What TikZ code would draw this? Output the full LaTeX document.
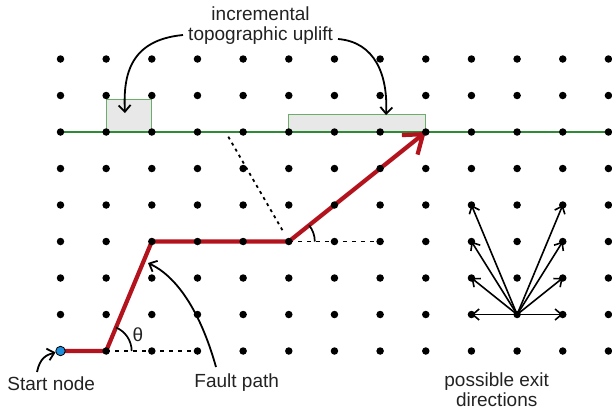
\documentclass[tikz,border=0pt]{standalone}
\usepackage{fontspec}
\setmainfont{Liberation Sans}
\usetikzlibrary{arrows.meta,backgrounds}
\definecolor{faultred}{HTML}{B3131C}
\definecolor{topogreen}{HTML}{2F8A35}
\definecolor{boxgreen}{HTML}{6AAE6A}
\definecolor{boxgray}{HTML}{E8E8E8}
\definecolor{startblue}{HTML}{1E8FDC}
\definecolor{txt}{HTML}{222222}
\begin{document}
\begin{tikzpicture}[x=1pt,y=1pt,
  dot/.style={circle,fill=black,inner sep=0pt,minimum size=7.5pt},
  startnode/.style={circle,fill=startblue,draw=black,line width=0.8pt,inner sep=0pt,minimum size=9.5pt},
  lbl/.style={font=\fontsize{19}{20.5}\selectfont,text=txt,inner sep=0pt},
  annot/.style={line width=1.8pt,-{Straight Barb[length=6.5pt,width=12pt]}},
  exitarrow/.style={line width=1.6pt,-{Straight Barb[length=6.5pt,width=11pt]}},
  faultpath/.style={line width=4.2pt,draw=faultred,-{Straight Barb[length=17pt,width=25pt]}},
  uplift/.style={draw=boxgreen,line width=1pt,fill=boxgray},
  surface/.style={draw=topogreen,line width=2.4pt},
  refline/.style={line width=1.8pt,dash pattern=on 4pt off 5pt},
  normalline/.style={line width=1.8pt,dash pattern=on 3pt off 4pt},
  anglearc/.style={line width=1.7pt}]
\useasboundingbox (0,0) rectangle (612,-413);
% grid of dots
\foreach \i in {0,...,12}{
  \foreach \j in {0,...,8}{
    \node[dot] (d-\i-\j) at ({60.5+45.66*\i},{-(59+36.5*\j)}) {};
  }
}
\node[startnode] (s) at (d-0-8.center) {};
\coordinate (gEnd) at (612,-132);
\coordinate (nTop) at (228.3,-136.7);
\coordinate (nBot) at (283.3,-231.7);
\begin{scope}[on background layer]
  \draw[uplift] (d-1-2.center) rectangle ([yshift=33pt]d-2-2.center);
  \draw[uplift] (d-5-2.center) rectangle ([yshift=18pt]d-8-2.center);
  \draw[surface] (d-0-2.center) -- (gEnd);
  \draw[refline] (d-1-8.center) -- (d-3-8.center);
  \draw[refline] (d-5-5.center) -- (d-7-5.center);
  \draw[normalline] (nTop) -- (nBot);
  \draw[faultpath] (s.center) -- (d-1-8.center) -- (d-2-5.center) -- (d-5-5.center) -- (d-8-2.center);
\end{scope}
% angle arcs
\draw[anglearc] ([shift={(0:25.5)}]d-1-8.center) arc[start angle=0,end angle=67.4,radius=25.5];
\draw[anglearc] ([shift={(0:26)}]d-5-5.center) arc[start angle=0,end angle=38.6,radius=26];
% labels
\node[lbl] (theta) at (138,-335) {θ};
\node[lbl,anchor=base] (startlbl) at (51.2,-390) {Start node};
\node[lbl,anchor=base] (faultlbl) at (236.7,-387.3) {Fault path};
\node[lbl,align=center] (upliftlbl) at (260.6,-25.45) {incremental\\topographic uplift};
\node[lbl,align=center] (exitlbl) at (496.7,-389.5) {possible exit\\directions};
% annotation arrows
\coordinate (uL) at (183,-35);
\coordinate (uLend) at (125,-113);
\coordinate (uR) at (338,-39);
\coordinate (uRend) at (386,-115);
\coordinate (fS) at (216,-367);
\coordinate (fE) at (148,-263);
\coordinate (sS) at (37,-372);
\draw[annot] (uL) .. controls (130,-40) and (123,-75) .. (uLend);
\draw[annot] (uR) .. controls (375,-42) and (388,-75) .. (uRend);
\draw[annot] (fS) .. controls (200,-310) and (176,-276) .. (fE);
\draw[annot] (sS) .. controls (40,-358) and (46,-355) .. (s);
% possible exit directions
\foreach \t in {d-9-7,d-11-7,d-9-6,d-11-6,d-9-5,d-11-5,d-9-4,d-11-4}{
  \draw[exitarrow] (d-10-7.center) -- (\t.center);
}
\end{tikzpicture}
\end{document}
